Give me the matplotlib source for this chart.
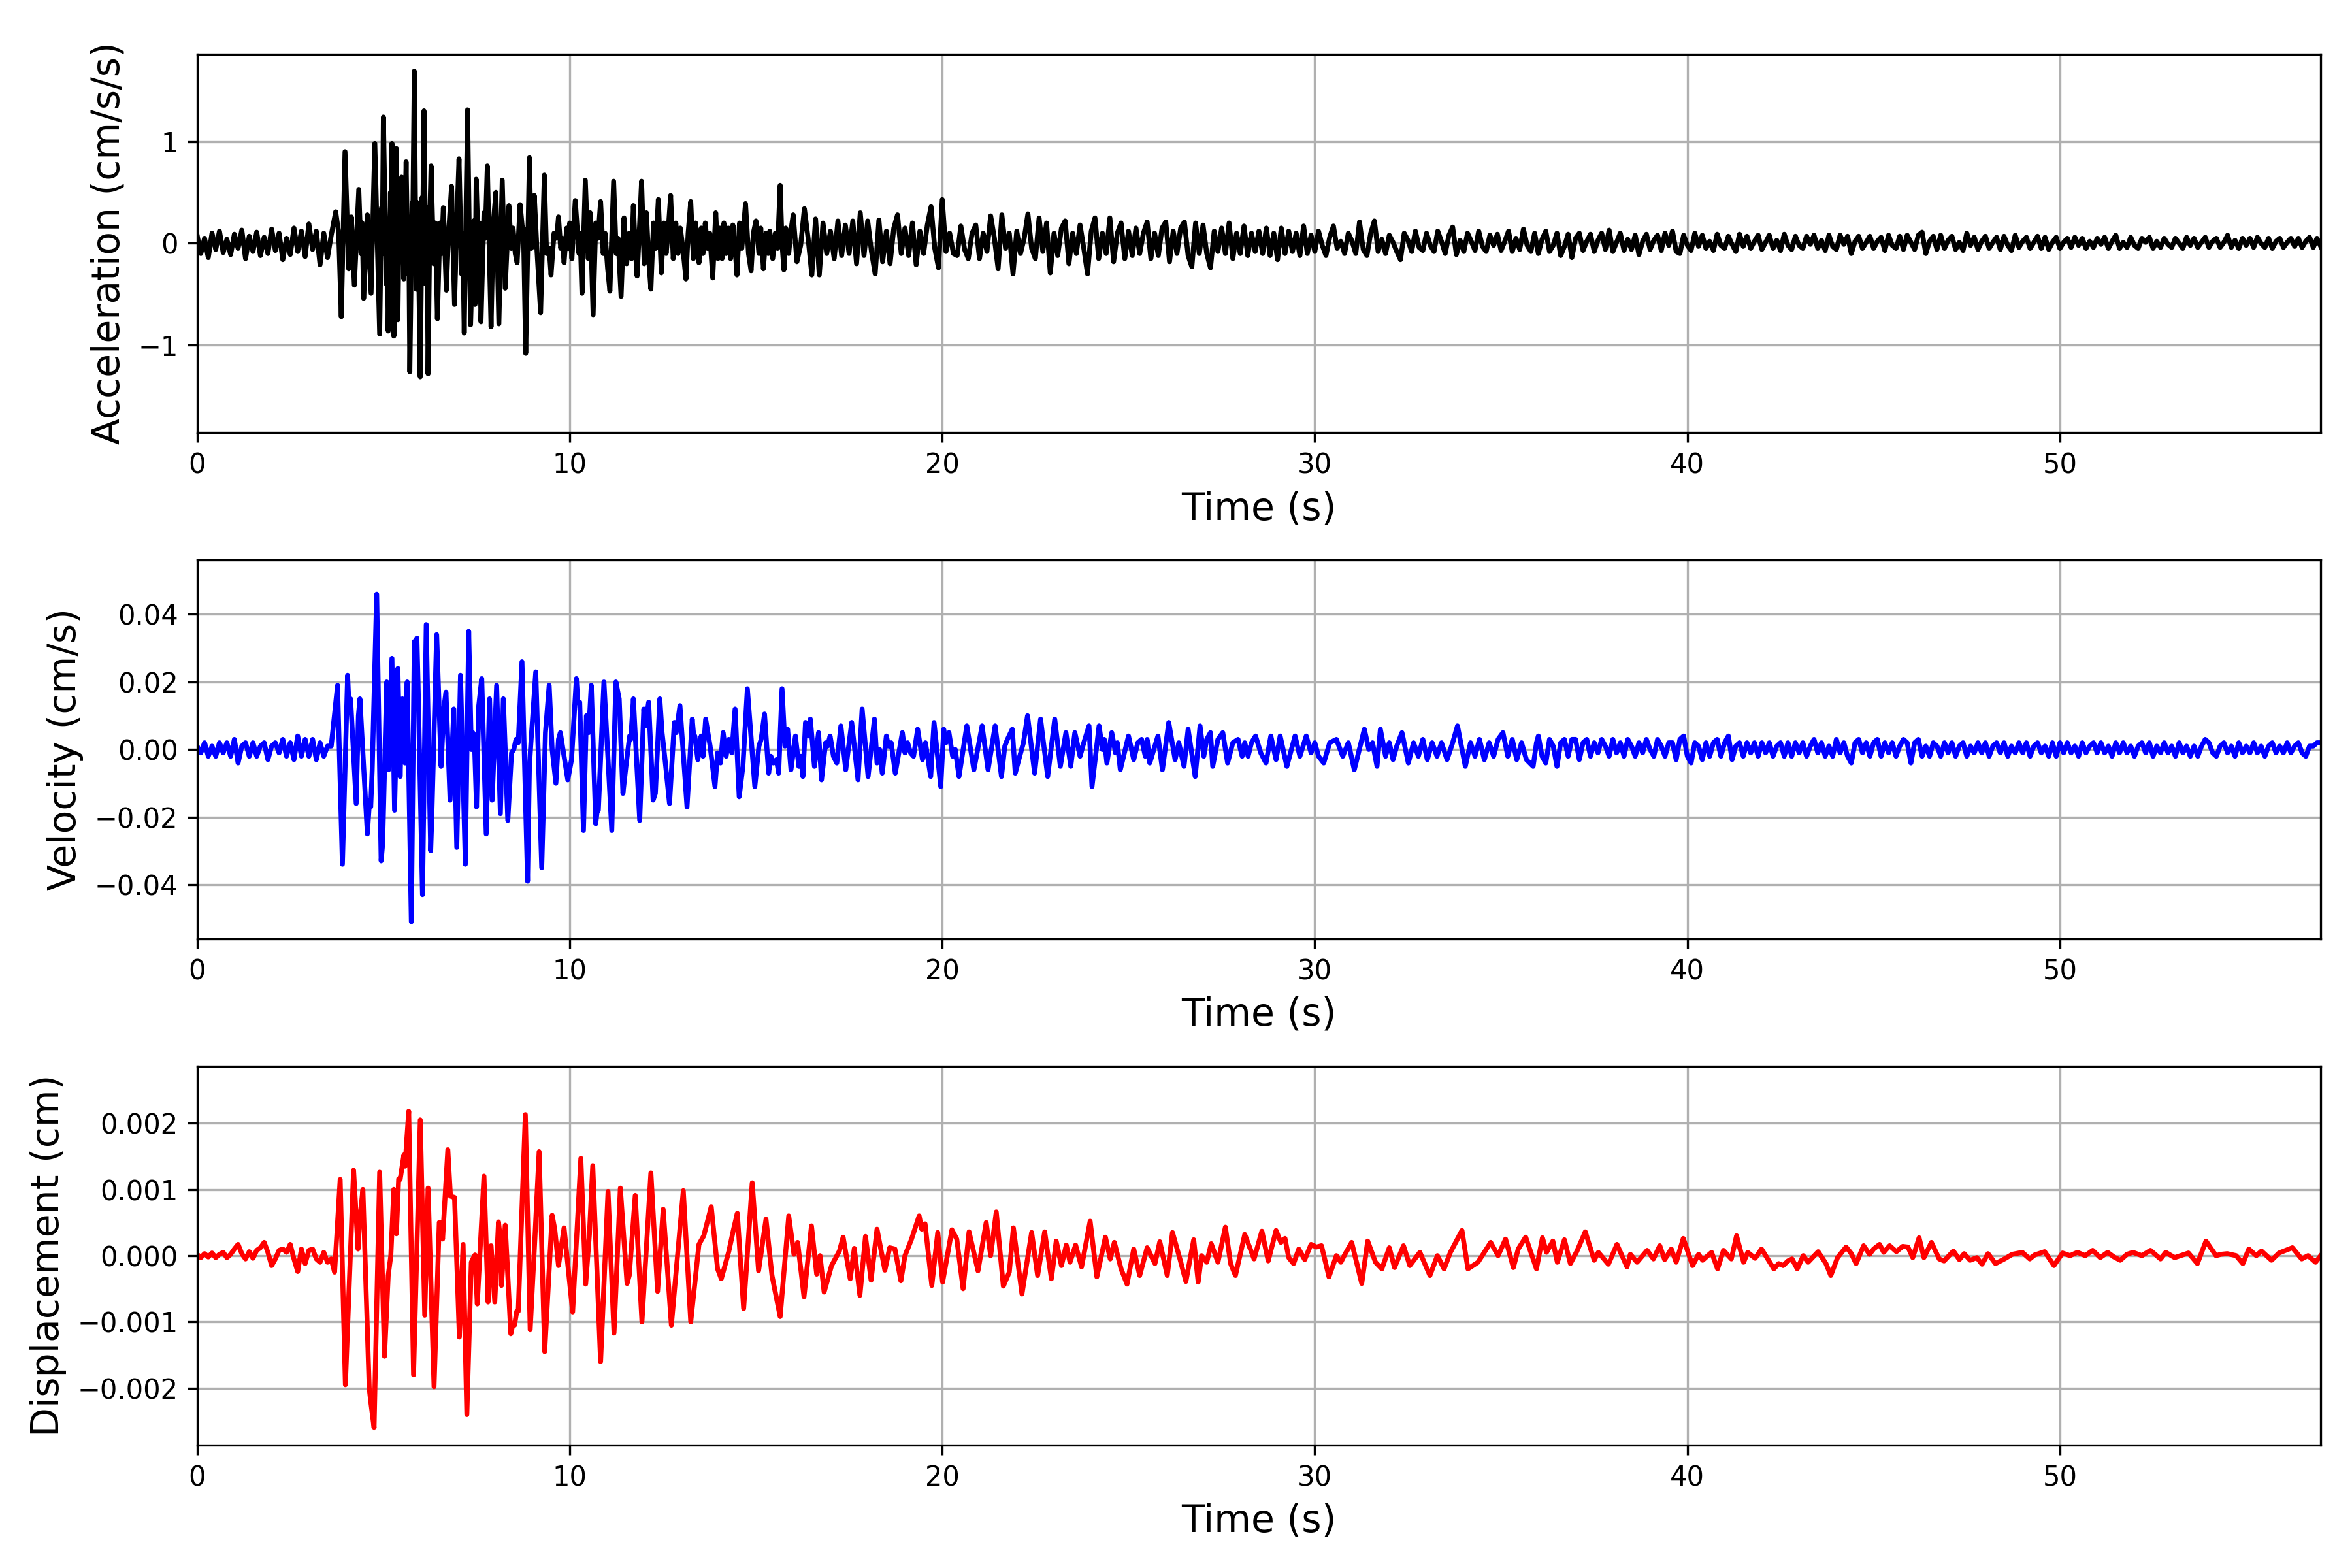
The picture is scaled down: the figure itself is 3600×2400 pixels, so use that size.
import numpy as np
import matplotlib
matplotlib.use("Agg")
import matplotlib.pyplot as plt

DT = 0.1  # sampling step of the uniformly sampled stretches (s)

# ---------------- Acceleration (cm/s/s) ----------------
acc_pre = [0.08, -0.10, 0.05, -0.14, 0.10, -0.06, 0.12, -0.09, 0.04, -0.11,
           0.09, -0.05, 0.13, -0.15, 0.07, -0.08, 0.11, -0.12, 0.06, -0.10,
           0.14, -0.07, 0.10, -0.16, 0.05, -0.11, 0.15, -0.08, 0.12, -0.13,
           0.19, -0.06, 0.12, -0.21, 0.10, -0.14]

acc_strong = [
    (3.60, 0.08), (3.72, 0.31), (3.80, 0.10), (3.87, -0.72), (3.97, 0.90), (4.07, -0.25),
    (4.14, 0.26), (4.22, -0.41), (4.34, 0.53), (4.40, -0.10), (4.43, 0.20), (4.47, -0.54),
    (4.57, 0.28), (4.67, -0.49), (4.77, 0.98), (4.90, -0.89), (4.95, 0.35), (4.97, -0.10),
    (5.00, 1.24), (5.08, -0.40), (5.10, 0.10), (5.13, -0.86), (5.19, 0.50), (5.21, -0.20),
    (5.23, 0.98), (5.28, -0.91), (5.35, 0.93), (5.39, -0.75), (5.43, 0.40), (5.46, -0.10),
    (5.49, 0.65), (5.55, -0.35), (5.61, 0.80), (5.66, -0.30), (5.68, 0.20), (5.71, -1.26),
    (5.77, 0.40), (5.79, 0.20), (5.83, 1.69), (5.88, -0.45), (5.91, 0.40), (5.95, -0.30),
    (5.99, -1.31), (6.04, 0.45), (6.06, 0.30), (6.09, 1.30), (6.14, -0.40), (6.17, 0.35),
    (6.20, -1.28), (6.25, 0.30), (6.28, 0.76), (6.35, -0.20), (6.40, 0.20), (6.45, -0.74),
    (6.52, 0.20), (6.56, -0.10), (6.61, 0.35), (6.69, -0.46), (6.75, 0.10), (6.83, 0.56),
    (6.91, -0.60), (6.97, 0.20), (7.03, 0.83), (7.10, -0.30), (7.13, 0.10), (7.17, -0.88),
    (7.26, 1.31), (7.34, -0.80), (7.42, 0.22), (7.46, -0.60), (7.49, 0.63), (7.55, -0.10),
    (7.58, 0.20), (7.62, -0.77), (7.70, 0.30), (7.73, 0.05), (7.79, 0.76), (7.89, -0.82),
    (7.95, 0.20), (8.02, 0.50), (8.10, -0.79), (8.19, 0.62), (8.27, -0.44), (8.37, 0.37),
    (8.43, -0.05), (8.48, 0.15), (8.54, -0.10), (8.59, -0.19), (8.67, 0.38), (8.73, 0.15),
    (8.76, 0.15), (8.82, -1.08), (8.92, 0.84), (8.97, -0.05), (9.00, 0.05), (9.05, 0.47),
    (9.12, -0.05), (9.22, -0.68), (9.32, 0.67), (9.38, -0.10), (9.45, -0.05), (9.50, -0.31),
    (9.58, 0.10), (9.65, 0.05), (9.70, 0.26), (9.76, -0.05), (9.80, 0.05), (9.85, -0.19),
    (9.92, 0.15), (9.96, -0.05), (10.00, 0.20), (10.06, -0.15), (10.15, 0.42), (10.25, -0.10),
    (10.28, 0.10), (10.33, -0.49), (10.42, 0.62), (10.50, -0.15), (10.55, 0.30), (10.63, -0.70),
    (10.70, 0.20), (10.76, 0.05), (10.83, 0.41), (10.90, -0.10), (10.95, 0.10), (11.02, -0.25),
    (11.08, -0.47), (11.18, 0.61), (11.25, -0.10), (11.30, 0.05), (11.38, -0.52), (11.46, 0.25),
    (11.53, -0.20), (11.60, 0.10), (11.66, -0.15), (11.71, 0.37), (11.76, -0.05), (11.81, -0.32),
    (11.88, 0.20), (11.93, 0.61), (12.00, -0.20), (12.06, 0.30), (12.12, -0.15), (12.18, -0.45),
    (12.25, 0.20), (12.31, -0.05), (12.38, 0.43), (12.46, -0.29), (12.53, 0.20), (12.59, -0.10),
    (12.64, 0.10), (12.71, 0.47), (12.78, -0.15), (12.85, 0.20), (12.91, -0.10), (12.97, 0.15),
    (13.04, -0.05), (13.12, -0.35), (13.18, 0.10), (13.25, 0.41), (13.32, -0.15), (13.38, 0.20),
    (13.44, -0.10), (13.47, -0.19), (13.53, 0.15), (13.58, -0.10), (13.64, 0.20), (13.70, -0.05),
    (13.76, 0.10), (13.84, -0.34), (13.92, 0.30), (13.98, -0.15), (14.03, 0.15), (14.09, -0.15),
    (14.14, 0.20), (14.20, -0.10), (14.26, 0.15), (14.32, -0.15), (14.38, 0.18), (14.44, -0.05),
    (14.49, -0.31), (14.56, 0.20), (14.62, -0.05), (14.72, 0.39), (14.80, -0.10), (14.87, -0.27),
    (14.93, 0.10), (15.00, 0.22), (15.08, -0.10), (15.13, 0.15), (15.20, -0.25), (15.27, 0.10),
    (15.33, -0.10), (15.37, 0.12), (15.45, -0.15), (15.52, 0.10), (15.58, -0.05), (15.65, 0.57),
    (15.70, 0.00), (15.75, -0.26), (15.80, 0.15), (15.88, -0.10), (15.93, 0.10),
]

acc_tail_start = 16.0
acc_tail = [
    0.28, -0.18, -0.02, 0.34, 0.05, -0.31, 0.24, -0.31, 0.20, -0.10,
    0.12, -0.15, 0.22, -0.12, 0.18, -0.10, 0.22, -0.20, 0.30, -0.12,
    0.22, -0.08, -0.30, 0.23, -0.18, 0.12, -0.20, 0.15, 0.28, -0.10,
    0.15, -0.12, 0.20, -0.21, 0.12, -0.10, 0.18, 0.36, -0.05, -0.24,
    0.43, -0.08, 0.10, -0.10, -0.12, 0.17, -0.06, -0.15, 0.10, 0.18,
    -0.15, 0.10, -0.08, 0.27, 0.05, -0.25, 0.28, -0.05, 0.10, -0.30,
    0.12, -0.10, 0.05, 0.29, -0.05, -0.15, 0.25, -0.08, 0.20, -0.29,
    0.10, -0.12, 0.15, 0.22, -0.20, 0.10, -0.10, 0.18, -0.05, -0.30,
    0.12, 0.25, -0.15, 0.10, -0.10, 0.25, -0.18, 0.10, 0.20, -0.15,
    0.12, -0.12, 0.15, -0.10, 0.10, 0.21, -0.15, 0.10, -0.12, 0.15,
    0.21, -0.18, 0.12, -0.10, 0.15, 0.21, -0.12, -0.23, 0.20, -0.10,
    0.18, -0.10, -0.24, 0.12, -0.08, 0.15, -0.10, 0.20, -0.15, 0.10,
    -0.10, 0.17, -0.12, 0.10, -0.08, 0.12, -0.10, 0.15, -0.12, 0.10,
    -0.16, 0.15, -0.10, 0.12, -0.08, 0.10, -0.12, 0.17, -0.10, 0.08,
    -0.08, 0.12, -0.02, -0.12, 0.06, 0.17, -0.05, 0.02, -0.10, 0.10,
    0.02, -0.10, 0.21, -0.06, -0.12, 0.10, 0.22, -0.08, 0.04, -0.10,
    0.08, 0.01, -0.08, -0.16, 0.10, 0.03, -0.08, 0.12, -0.04, -0.07,
    0.10, -0.02, -0.08, 0.12, 0.02, -0.10, 0.08, 0.16, -0.11, 0.03,
    -0.08, 0.10, 0.02, -0.07, 0.12, -0.03, -0.08, 0.08, -0.02, 0.09,
    -0.07, 0.02, 0.12, -0.08, 0.05, -0.06, 0.14, -0.02, -0.08, 0.10,
    -0.10, 0.04, 0.12, -0.08, -0.02, 0.10, -0.12, -0.03, 0.09, -0.14,
    0.05, 0.10, -0.07, 0.02, 0.09, -0.08, 0.03, 0.10, -0.06, 0.13,
    -0.08, 0.01, 0.10, -0.07, 0.04, -0.06, 0.08, -0.11, 0.02, 0.09,
    -0.06, 0.03, 0.08, -0.07, 0.10, -0.02, 0.12, -0.08, -0.10, 0.08,
    -0.02, -0.07, 0.10, -0.03, 0.08, -0.05, 0.02, -0.07, 0.09, -0.02,
    -0.05, 0.07, -0.01, -0.08, 0.09, -0.03, 0.07, -0.05, 0.02, 0.08,
    -0.06, 0.01, 0.08, -0.05, 0.03, -0.07, 0.09, -0.02, -0.06, 0.07,
    -0.02, -0.05, 0.07, -0.01, 0.08, -0.05, 0.03, -0.07, 0.08, -0.03,
    -0.06, 0.08, -0.01, 0.07, -0.10, 0.02, 0.07, -0.05, 0.01, 0.07,
    -0.05, 0.02, 0.06, -0.07, 0.08, -0.02, -0.05, 0.07, -0.06, 0.08,
    0.01, -0.06, 0.08, 0.11, -0.10, 0.02, 0.07, -0.06, 0.08, -0.05,
    0.03, 0.07, -0.06, 0.01, -0.07, 0.10, -0.02, 0.06, -0.06, 0.02,
    0.07, -0.05, 0.01, 0.06, -0.06, 0.07, -0.02, -0.07, 0.08, -0.04,
    0.02, 0.06, -0.05, 0.01, 0.07, -0.05, 0.06, -0.06, 0.01, 0.06,
    -0.05, 0.01, 0.05, -0.04, 0.06, -0.02, 0.05, -0.05, 0.02, -0.04,
    0.05, -0.01, 0.06, -0.05, 0.02, 0.08, -0.05, 0.01, -0.04, 0.06,
    -0.02, -0.05, 0.05, 0.01, 0.06, -0.05, 0.02, -0.04, 0.05, -0.01,
    -0.04, 0.05, 0.00, -0.05, 0.06, -0.02, 0.05, -0.04, 0.01, 0.06,
    -0.04, 0.02, 0.05, -0.04, 0.01, 0.08, -0.04, 0.03, -0.05, 0.05,
    -0.02, 0.05, -0.04, 0.06, 0.00, -0.04, 0.05, -0.05, 0.02, 0.05,
    -0.04, 0.01, 0.05, -0.03, 0.05, -0.04, 0.02, 0.06, -0.04, 0.05,
    -0.03,
]

# ---------------- Velocity (cm/s) ----------------
vel_pre = [0.001, -0.001, 0.002, -0.002, 0.001, -0.002, 0.002, -0.001, 0.002, -0.002,
           0.003, -0.004, 0.001, 0.002, -0.002, 0.002, -0.002, 0.001, 0.002, -0.003,
           0.001, 0.002, -0.001, 0.003, -0.002, 0.002, -0.003, 0.004, -0.002, 0.003,
           -0.002, 0.003, -0.003, 0.002, -0.002, 0.001]

vel_strong = [
    (3.60, 0.001), (3.77, 0.019), (3.90, -0.034), (4.04, 0.022), (4.08, 0.012), (4.12, 0.015),
    (4.27, -0.016), (4.33, 0.010), (4.37, 0.015), (4.42, 0.005), (4.57, -0.025), (4.63, -0.015),
    (4.66, -0.017), (4.70, -0.006), (4.82, 0.046), (4.94, -0.033), (4.98, -0.028), (5.09, 0.020),
    (5.14, -0.006), (5.23, 0.027), (5.30, -0.018), (5.39, 0.024), (5.45, -0.008), (5.51, 0.015),
    (5.58, -0.004), (5.64, 0.020), (5.75, -0.051), (5.83, 0.032), (5.87, 0.016), (5.90, 0.033),
    (5.93, 0.020), (6.05, -0.043), (6.15, 0.037), (6.27, -0.030), (6.30, -0.020), (6.43, 0.034),
    (6.55, -0.005), (6.62, 0.012), (6.68, 0.017), (6.79, -0.015), (6.89, 0.012), (6.97, -0.029),
    (7.07, 0.022), (7.20, -0.034), (7.29, 0.035), (7.36, 0.000), (7.40, 0.005), (7.44, 0.004),
    (7.50, -0.017), (7.56, 0.013), (7.64, 0.021), (7.76, -0.025), (7.85, 0.015), (7.92, -0.015),
    (8.04, 0.019), (8.14, -0.019), (8.22, 0.015), (8.34, -0.021), (8.44, -0.001), (8.50, 0.000),
    (8.56, 0.003), (8.62, 0.002), (8.72, 0.026), (8.87, -0.039), (8.92, -0.005), (8.96, 0.002),
    (9.09, 0.023), (9.25, -0.035), (9.35, 0.005), (9.45, 0.019), (9.53, 0.000), (9.63, -0.010),
    (9.70, 0.003), (9.75, 0.005), (9.85, -0.002), (9.95, -0.009), (10.05, -0.003), (10.18, 0.021),
    (10.22, 0.014), (10.27, 0.014), (10.37, -0.024), (10.45, 0.010), (10.51, 0.005), (10.58, 0.019),
    (10.70, -0.022), (10.74, -0.018), (10.77, -0.018), (10.92, 0.020), (11.13, -0.024), (11.24, 0.020),
    (11.33, 0.015), (11.43, -0.013), (11.51, -0.005), (11.61, 0.004), (11.64, 0.003), (11.71, 0.015),
    (11.88, -0.021), (11.99, 0.012), (12.03, 0.007), (12.12, 0.014), (12.24, -0.015), (12.30, -0.013),
    (12.42, 0.015), (12.48, 0.005), (12.56, -0.003), (12.68, -0.016), (12.81, 0.008), (12.86, 0.005),
    (12.96, 0.013), (13.15, -0.017), (13.29, 0.009), (13.33, 0.004), (13.36, 0.004), (13.44, -0.003),
    (13.53, 0.004), (13.58, -0.002), (13.65, 0.009), (13.77, 0.001), (13.90, -0.011), (13.97, -0.001),
    (14.05, -0.004), (14.12, 0.005), (14.20, -0.002), (14.27, 0.003), (14.35, -0.001), (14.44, 0.012),
    (14.55, -0.014), (14.65, -0.005), (14.77, 0.018), (14.97, -0.011), (15.08, 0.001), (15.14, 0.003),
    (15.23, 0.0105), (15.34, -0.007), (15.40, -0.002), (15.47, -0.004), (15.55, -0.003), (15.61, -0.007),
    (15.70, 0.018), (15.78, 0.001), (15.85, 0.006), (15.94, -0.006), (16.06, 0.004), (16.15, -0.005),
    (16.20, -0.002), (16.26, -0.008), (16.33, 0.008), (16.40, 0.004), (16.46, 0.009), (16.57, -0.005),
    (16.68, 0.005), (16.76, -0.009), (16.87, 0.002), (16.92, 0.001), (16.99, 0.004), (17.08, -0.002),
    (17.17, -0.004), (17.28, 0.007), (17.41, -0.006), (17.57, 0.008), (17.74, -0.009), (17.85, 0.012),
    (18.01, -0.008), (18.18, 0.009), (18.25, -0.004), (18.32, 0.000), (18.39, -0.007), (18.50, 0.004),
    (18.56, 0.001), (18.63, 0.002), (18.74, -0.007), (18.93, 0.005), (19.00, -0.001), (19.07, 0.002),
    (19.15, -0.001), (19.23, -0.002), (19.34, 0.006), (19.47, -0.003), (19.55, 0.002), (19.69, -0.008),
    (19.78, 0.008), (19.96, -0.011), (20.04, 0.006), (20.10, 0.002), (20.18, 0.005), (20.28, -0.002),
    (20.35, 0.000), (20.45, -0.008), (20.66, 0.007), (20.85, -0.006), (21.07, 0.007), (21.23, -0.006),
    (21.42, 0.007), (21.59, -0.008), (21.68, 0.001), (21.75, 0.003), (21.88, 0.006), (21.96, -0.007),
    (22.08, -0.002), (22.18, 0.002), (22.29, 0.010), (22.48, -0.007), (22.64, 0.009), (22.83, -0.008),
    (23.02, 0.009), (23.17, -0.005), (23.32, 0.005), (23.45, -0.005), (23.56, 0.005), (23.70, -0.002),
    (23.80, 0.002), (23.94, 0.007), (24.02, -0.011), (24.21, 0.007), (24.30, 0.000), (24.35, 0.003),
    (24.42, -0.004), (24.55, 0.005), (24.65, -0.001), (24.70, 0.002), (24.78, -0.006), (25.00, 0.004),
    (25.14, -0.003), (25.25, 0.002), (25.35, 0.003), (25.45, -0.002), (25.50, 0.003), (25.57, -0.004),
    (25.79, 0.004), (25.91, -0.006), (26.08, 0.008), (26.25, -0.003), (26.35, 0.002), (26.49, -0.005),
    (26.60, 0.006), (26.79, -0.008), (26.92, 0.007), (27.02, -0.002), (27.10, 0.003), (27.20, 0.005),
    (27.26, -0.005), (27.40, 0.003), (27.53, 0.005), (27.66, -0.004), (27.80, 0.002), (27.94, 0.003),
    (28.05, -0.002), (28.12, 0.002), (28.21, -0.002), (28.30, 0.002), (28.41, 0.004), (28.55, -0.001),
    (28.69, -0.004), (28.82, 0.004), (28.96, -0.003), (29.07, 0.004), (29.25, -0.005), (29.47, 0.004),
    (29.60, -0.002), (29.77, 0.004), (29.90, -0.001), (30.00, 0.002), (30.10, -0.002), (30.24, -0.004),
    (30.40, 0.002), (30.58, 0.003), (30.75, -0.002), (30.90, 0.002), (31.06, -0.006), (31.33, 0.006),
    (31.45, 0.000), (31.55, 0.002), (31.67, -0.005), (31.76, 0.006), (31.90, -0.002), (32.00, 0.002),
    (32.10, -0.003), (32.20, 0.001), (32.34, 0.005), (32.51, -0.004), (32.65, 0.002), (32.78, -0.002),
    (32.90, 0.003), (33.02, -0.003), (33.15, 0.002), (33.28, -0.002), (33.40, 0.002), (33.55, -0.003),
    (33.70, 0.002), (33.83, 0.007), (34.04, -0.005), (34.18, 0.002), (34.30, -0.002), (34.42, 0.003),
    (34.55, -0.003), (34.68, 0.002), (34.80, -0.002), (34.92, 0.003), (35.05, 0.005), (35.18, -0.002),
    (35.30, 0.003), (35.42, -0.003), (35.55, 0.002), (35.68, -0.003), (35.86, -0.005), (35.95, 0.002),
]

vel_tail_start = 36.0
vel_tail = [
    0.004, -0.002, -0.004, 0.003, 0.001, -0.005, 0.002, 0.003, -0.002, 0.003,
    0.003, -0.003, 0.002, 0.003, -0.002, 0.002, -0.001, 0.003, 0.001, -0.002,
    0.003, -0.001, 0.002, -0.002, 0.003, 0.001, -0.002, 0.002, -0.001, 0.003,
    0.000, -0.002, 0.003, 0.001, -0.002, 0.002, 0.002, -0.003, 0.003, 0.004,
    -0.002, -0.004, 0.002, 0.001, -0.003, 0.002, -0.002, 0.002, 0.003, -0.002,
    0.002, 0.004, -0.003, 0.001, 0.002, -0.002, 0.002, -0.001, 0.002, -0.002,
    0.002, -0.001, 0.002, -0.002, 0.001, 0.002, -0.002, 0.002, -0.002, 0.002,
    -0.001, 0.002, -0.002, 0.001, 0.003, -0.001, 0.002, -0.002, 0.001, -0.002,
    0.003, -0.001, 0.002, -0.002, -0.004, 0.002, 0.003, -0.001, 0.002, -0.002,
    0.002, 0.003, -0.002, 0.002, -0.001, 0.002, -0.002, 0.001, 0.003, 0.002,
    -0.004, 0.002, 0.003, -0.002, 0.001, -0.002, 0.002, 0.001, -0.002, 0.002,
    -0.001, 0.002, -0.002, 0.001, 0.002, -0.002, 0.001, -0.001, 0.002, -0.001,
    0.002, -0.002, 0.001, 0.002, -0.001, 0.002, -0.002, 0.001, -0.001, 0.002,
    -0.001, 0.002, -0.002, 0.001, 0.002, -0.001, 0.001, -0.002, 0.002, -0.002,
    0.002, -0.001, 0.002, -0.001, 0.001, -0.002, 0.002, -0.001, 0.001, 0.002,
    -0.001, 0.002, -0.001, 0.001, -0.002, 0.002, -0.001, 0.002, -0.001, 0.001,
    -0.002, 0.001, 0.002, -0.001, 0.002, -0.002, 0.001, -0.001, 0.002, -0.001,
    0.001, -0.002, 0.002, -0.001, 0.001, -0.002, 0.001, -0.002, 0.001, 0.003,
    0.002, -0.001, -0.002, 0.001, 0.002, -0.001, 0.001, -0.002, 0.002, -0.001,
    0.001, -0.001, 0.002, -0.001, 0.001, -0.002, 0.001, 0.002, -0.001, 0.001,
    -0.001, 0.002, -0.001, 0.001, 0.002, -0.001, -0.002, 0.001, 0.001, 0.002,
    0.002,
]

# ---------------- Displacement (cm) ----------------
disp_pre = [0.00002, -0.00003, 0.00003, -0.00002, 0.00004, -0.00003, 0.00002, 0.00005, -0.00003, 0.00002,
            0.00010, 0.00017, 0.00003, -0.00005, 0.00006, -0.00004, 0.00008, 0.00012, 0.00020, 0.00005,
            -0.00015, -0.00005, 0.00008, 0.00010, 0.00005, 0.00017, -0.00005, -0.00024, 0.00010, -0.00012,
            0.00008, 0.00010, -0.00005, -0.00010, 0.00005, -0.00010]

disp_strong = [
    (3.60, -0.00005), (3.69, -0.00025), (3.84, 0.00115), (3.98, -0.00195), (4.10, -0.00020),
    (4.20, 0.00129), (4.32, 0.00010), (4.36, 0.00050), (4.45, 0.00100), (4.62, -0.00200),
    (4.66, -0.00220), (4.75, -0.00260), (4.90, 0.00126), (5.03, -0.00152), (5.13, -0.00030),
    (5.20, 0.00000), (5.28, 0.00100), (5.35, 0.00033), (5.41, 0.00116), (5.45, 0.00115),
    (5.55, 0.00152), (5.58, 0.00135), (5.61, 0.00160), (5.68, 0.00218), (5.81, -0.00180),
    (5.99, 0.00205), (6.11, -0.00090), (6.20, 0.00102), (6.36, -0.00198), (6.50, 0.00050),
    (6.55, 0.00050), (6.59, 0.00025), (6.73, 0.00160), (6.80, 0.00090), (6.85, 0.00089),
    (6.91, 0.00088), (7.04, -0.00123), (7.14, 0.00017), (7.24, -0.00240), (7.36, -0.00010),
    (7.40, -0.00005), (7.46, 0.00001), (7.52, -0.00073), (7.70, 0.00120), (7.81, -0.00070),
    (7.89, 0.00015), (7.99, -0.00070), (8.09, 0.00051), (8.13, 0.00030), (8.17, -0.00045),
    (8.27, 0.00046), (8.42, -0.00118), (8.47, -0.00105), (8.52, -0.00105), (8.58, -0.00084),
    (8.62, -0.00084), (8.81, 0.00213), (8.94, -0.00112), (9.07, 0.00030), (9.18, 0.00157),
    (9.33, -0.00145), (9.53, 0.00061), (9.60, 0.00040), (9.70, -0.00015), (9.85, 0.00042),
    (10.08, -0.00085), (10.30, 0.00147), (10.43, -0.00043), (10.53, 0.00032), (10.62, 0.00136),
    (10.83, -0.00160), (11.03, 0.00097), (11.19, -0.00117), (11.36, 0.00102), (11.54, -0.00042),
    (11.60, -0.00030), (11.76, 0.00091), (11.94, -0.00100), (12.18, 0.00125), (12.36, -0.00054),
    (12.51, 0.00070), (12.73, -0.00105), (13.05, 0.00098), (13.25, -0.00100), (13.47, 0.00017),
    (13.60, 0.00030), (13.80, 0.00074), (13.97, -0.00020), (14.07, -0.00035), (14.27, 0.00006),
    (14.40, 0.00040), (14.50, 0.00064), (14.67, -0.00080), (14.90, 0.00110), (15.07, -0.00023),
    (15.27, 0.00055), (15.43, -0.00030), (15.65, -0.00092), (15.88, 0.00060), (16.02, 0.00002),
    (16.12, 0.00020), (16.29, -0.00062), (16.49, 0.00045), (16.63, -0.00028), (16.72, 0.00000),
    (16.83, -0.00055), (17.03, -0.00015), (17.24, 0.00007), (17.34, 0.00028), (17.53, -0.00035),
    (17.64, 0.00011), (17.79, -0.00060), (17.94, 0.00029), (18.09, -0.00037), (18.25, 0.00040),
    (18.46, -0.00022), (18.59, 0.00012), (18.73, 0.00010), (18.89, -0.00038), (19.00, 0.00000),
    (19.17, 0.00024), (19.38, 0.00060), (19.45, 0.00040), (19.54, 0.00048), (19.72, -0.00045),
    (19.88, 0.00035), (20.01, -0.00040), (20.26, 0.00039), (20.39, 0.00025), (20.56, -0.00050),
    (20.72, 0.00036), (20.96, -0.00023), (21.18, 0.00050), (21.30, 0.00000), (21.45, 0.00066),
    (21.64, -0.00046), (21.80, -0.00025), (21.91, 0.00042), (22.14, -0.00058), (22.40, 0.00035),
    (22.56, -0.00030), (22.75, 0.00036), (22.93, -0.00035), (23.06, 0.00022), (23.20, -0.00015),
    (23.33, 0.00016), (23.43, -0.00010), (23.58, 0.00016), (23.74, -0.00017), (23.97, 0.00052),
    (24.15, -0.00032), (24.38, 0.00028), (24.51, -0.00005), (24.62, 0.00020), (24.80, -0.00020),
    (24.96, -0.00043), (25.14, 0.00010), (25.30, -0.00030), (25.50, 0.00012), (25.71, -0.00012),
    (25.84, 0.00021), (26.04, -0.00030), (26.18, 0.00035), (26.38, -0.00005), (26.54, -0.00039),
    (26.75, 0.00024), (26.87, -0.00040), (26.96, 0.00000), (27.10, -0.00010), (27.22, 0.00018),
    (27.40, -0.00010), (27.60, 0.00043), (27.74, -0.00012), (27.87, -0.00030), (28.12, 0.00032),
    (28.37, -0.00005), (28.58, 0.00037), (28.75, -0.00008), (28.96, 0.00038), (29.09, 0.00020),
    (29.20, 0.00026), (29.30, -0.00003), (29.43, -0.00012), (29.57, 0.00010), (29.73, -0.00006),
    (29.90, 0.00017), (30.04, 0.00013), (30.18, 0.00015), (30.38, -0.00032), (30.58, 0.00000),
    (30.70, -0.00010), (30.79, 0.00000), (30.99, 0.00020), (31.26, -0.00042), (31.42, 0.00022),
    (31.63, -0.00010), (31.80, -0.00020), (32.00, 0.00012), (32.14, -0.00018), (32.38, 0.00015),
    (32.55, -0.00015), (32.82, 0.00005), (33.09, -0.00030), (33.29, 0.00000), (33.47, -0.00020),
    (33.64, 0.00005), (33.95, 0.00038), (34.11, -0.00020), (34.38, -0.00010), (34.72, 0.00020),
    (34.92, 0.00000), (35.12, 0.00025), (35.33, -0.00018), (35.46, 0.00010), (35.66, 0.00028),
    (35.95, -0.00020), (36.11, 0.00027), (36.22, 0.00005), (36.39, 0.00022), (36.51, -0.00010),
    (36.70, 0.00024), (36.86, -0.00012), (37.03, 0.00006), (37.26, 0.00036), (37.50, -0.00007),
    (37.61, 0.00005), (37.88, -0.00013), (38.11, 0.00017), (38.38, -0.00017), (38.47, 0.00002),
    (38.65, -0.00010), (38.92, 0.00008), (39.09, -0.00005), (39.26, 0.00015), (39.39, -0.00006),
    (39.57, 0.00010), (39.70, -0.00010), (39.89, 0.00026), (40.14, -0.00015), (40.30, 0.00002),
    (40.41, -0.00007), (40.65, 0.00005), (40.81, -0.00020), (40.97, 0.00008), (41.18, -0.00005),
    (41.32, 0.00030), (41.51, -0.00010), (41.62, 0.00005), (41.82, -0.00004), (41.99, 0.00010),
    (42.19, -0.00008), (42.32, -0.00020), (42.45, -0.00012), (42.57, -0.00015), (42.70, -0.00008),
    (42.81, -0.00005), (42.95, -0.00020), (43.11, 0.00000), (43.24, -0.00010), (43.51, 0.00006),
    (43.72, -0.00012), (43.85, -0.00030), (44.03, -0.00003), (44.26, 0.00013), (44.39, 0.00004),
    (44.53, -0.00012), (44.73, 0.00015), (44.89, 0.00002), (45.00, 0.00010), (45.16, 0.00017),
    (45.27, 0.00005), (45.43, 0.00015), (45.61, 0.00006), (45.78, 0.00014), (45.92, 0.00013),
    (46.05, -0.00003), (46.22, 0.00027), (46.35, -0.00003), (46.55, 0.00020), (46.76, -0.00005),
    (46.89, -0.00008), (47.14, 0.00007), (47.30, -0.00006), (47.43, 0.00003), (47.59, -0.00007),
    (47.77, -0.00003), (47.91, -0.00013), (48.07, 0.00003), (48.27, -0.00012), (48.51, -0.00005),
    (48.72, 0.00002), (48.99, 0.00005), (49.19, -0.00005), (49.32, 0.00001), (49.59, 0.00006),
    (49.84, -0.00015), (50.07, 0.00004), (50.27, 0.00000), (50.47, 0.00005), (50.68, 0.00000),
    (50.88, 0.00008), (51.08, -0.00003), (51.28, 0.00005), (51.45, -0.00002), (51.62, -0.00007),
    (51.80, 0.00002), (51.96, 0.00005), (52.20, 0.00000), (52.43, 0.00008), (52.70, -0.00005),
    (52.84, 0.00005), (53.08, -0.00003), (53.24, 0.00000), (53.45, 0.00004), (53.69, -0.00012),
    (53.92, 0.00022), (54.19, 0.00000), (54.32, 0.00002), (54.49, 0.00003), (54.73, 0.00000),
    (54.91, -0.00012), (55.07, 0.00010), (55.27, 0.00000), (55.41, 0.00007), (55.68, -0.00007),
    (55.88, 0.00004), (56.24, 0.00012), (56.49, -0.00005), (56.66, 0.00000), (56.86, -0.00010),
    (57.00, 0.00000),
]

panel_labels = ["Acceleration (cm/s/s)", "Velocity (cm/s)", "Displacement (cm)"]
panel_colors = ["black", "blue", "red"]
x_label = "Time (s)"
x_max = 57


def assemble(pre, pairs, tail=None, tail_start=None):
    t = list(np.arange(len(pre)) * DT)
    v = list(pre)
    t += [p[0] for p in pairs]
    v += [p[1] for p in pairs]
    if tail is not None:
        t += list(tail_start + np.arange(len(tail)) * DT)
        v += list(tail)
    t = np.array(t)
    v = np.array(v)
    order = np.argsort(t, kind="stable")
    return t[order], v[order]


series = [
    assemble(acc_pre, acc_strong, acc_tail, acc_tail_start),
    assemble(vel_pre, vel_strong, vel_tail, vel_tail_start),
    assemble(disp_pre, disp_strong),
]

fig, axes = plt.subplots(3, 1, figsize=(12, 8), dpi=300)
fig.subplots_adjust(left=0.0838, right=0.9867, top=0.9656, bottom=0.0784, hspace=0.336)

for ax, (t, v), color, label in zip(axes, series, panel_colors, panel_labels):
    ax.plot(t, v, color=color, linewidth=1.8)
    ax.set_xlim(0, x_max)
    lim = 1.1 * np.max(np.abs(v))
    ax.set_ylim(-lim, lim)
    ax.set_xlabel(x_label, fontsize=14)
    ax.set_ylabel(label, fontsize=14)
    ax.grid(True)

fig.savefig("out.png", dpi=300)
